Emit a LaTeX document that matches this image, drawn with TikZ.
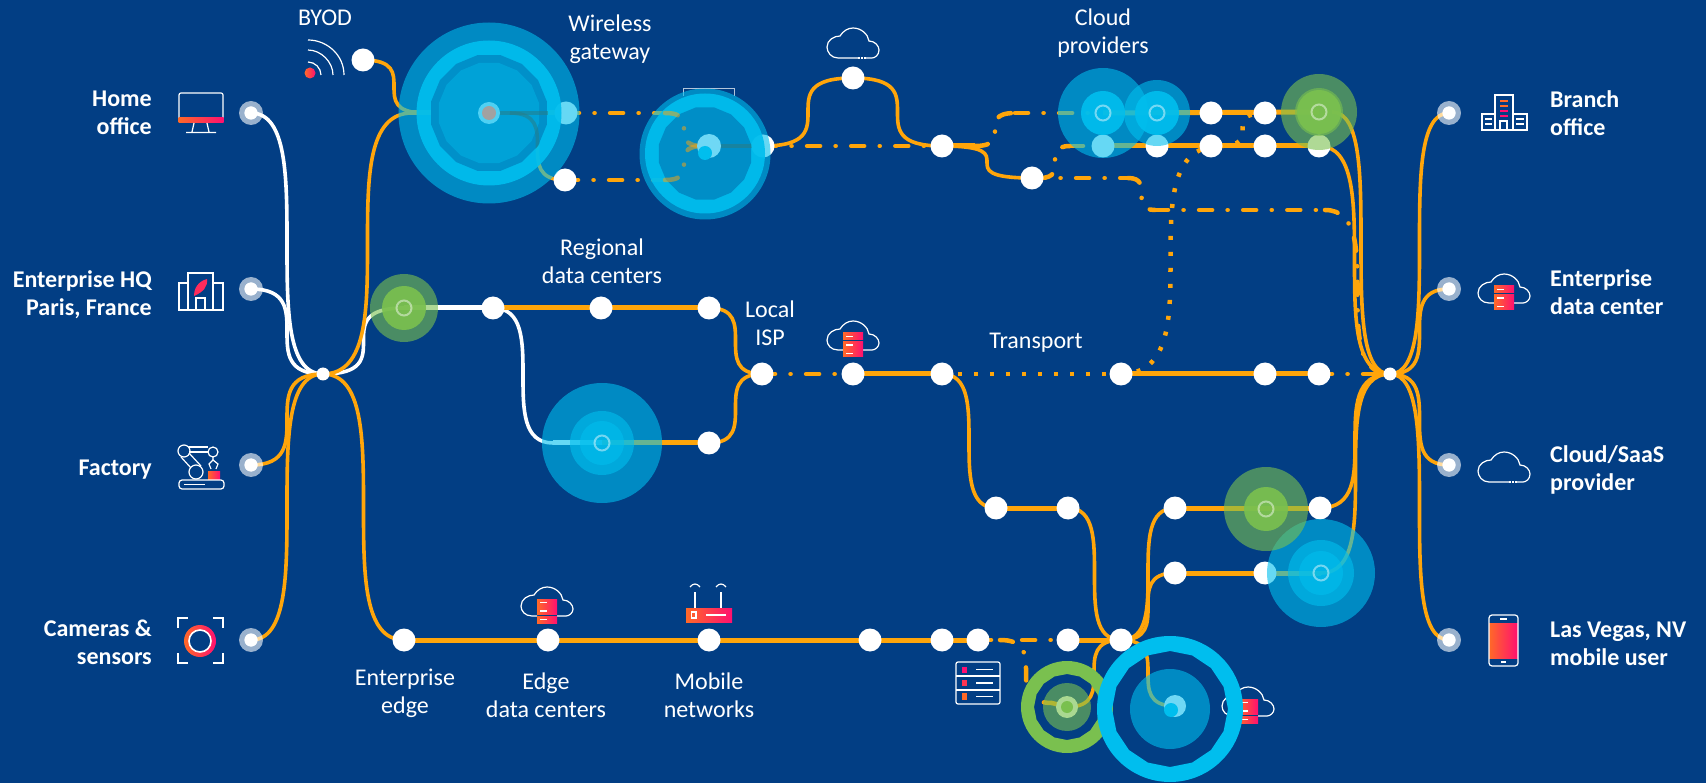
\documentclass[tikz,border=0pt]{standalone}
\usepackage{fontspec}
\usepackage{xcolor}
\usepackage{tikz}
\usetikzlibrary{shapes.geometric}
\setmainfont{Carlito}
\pgfdeclarelayer{lines}
\pgfdeclarelayer{discs}
\pgfsetlayers{lines,main,discs}
\definecolor{navy}{RGB}{2,62,132}
\definecolor{routeorange}{RGB}{255,165,10}
\definecolor{skyblue}{RGB}{0,190,238}
\definecolor{deepblue}{RGB}{0,140,198}
\definecolor{midblue}{RGB}{0,165,217}
\definecolor{paleblue}{RGB}{111,216,245}
\definecolor{leafgreen}{RGB}{122,192,79}
\definecolor{palegreen}{RGB}{170,216,145}
\definecolor{hotpink}{RGB}{255,16,112}
\definecolor{coral}{RGB}{255,105,40}
\definecolor{gwtrace}{RGB}{40,125,135}
\newcommand{\swoop}[3][flow]{\draw[#1] (#2.center) .. controls (#3.center |- #2.center) and (#2.center |- #3.center) .. (#3.center);}
\tikzset{
    cloudline/.pic={
        \draw[icon] (5,15) -- (-15,15) .. controls (-22,15) and (-26,9) .. (-26,4) .. controls (-26,-3) and (-19,-7) .. (-13,-7) .. controls (-10,-12) and (-5,-15) .. (0,-15) .. controls (8,-15) and (15,-9) .. (16,-2) .. controls (22,-2) and (26,3) .. (26,7) .. controls (26,12) and (22,15) .. (19,15) -- (13,15);
        \draw[icon,dash pattern=on 1.5pt off 1.5pt] (5,15) -- (13,15);
    },
    cloudrack/.pic={
        \draw[icon] (-10,13) -- (-15,13) .. controls (-22,13) and (-26,8) .. (-26,3) .. controls (-26,-4) and (-19,-8) .. (-13,-8) .. controls (-10,-13) and (-5,-16) .. (0,-16) .. controls (8,-16) and (15,-10) .. (16,-3) .. controls (22,-3) and (26,2) .. (26,6) .. controls (26,10) and (22,13) .. (19,13) -- (10,13);
        \foreach \ytop in {-4,4.5,13} {
            \shade[left color=coral,right color=hotpink] (-10,\ytop) rectangle (10,\ytop+7);
            \draw[white,line width=1.2pt] (-7,\ytop+3.5) -- (0,\ytop+3.5);
        };
    },
}
\begin{document}
\begin{tikzpicture}[x=1pt,y=-1pt,inner sep=0pt]
    \tikzstyle{stop}=[circle,fill=white,minimum size=23pt]
    \tikzstyle{hub}=[circle,fill=white,minimum size=13pt]
    \tikzstyle{port}=[circle,fill=white,fill opacity=.6,minimum size=24pt]
    \tikzstyle{portcore}=[circle,fill=white,minimum size=13pt]
    \tikzstyle{disc}=[circle,fill opacity=.6,minimum size=2*\rad pt]
    \tikzstyle{coredisc}=[circle,fill opacity=.92,minimum size=2*\rad pt]
    \tikzstyle{corering}=[circle,draw=white,draw opacity=.45,line width=2pt,minimum size=15pt]
    \tikzstyle{flow}=[routeorange,line width=3.6pt]
    \tikzstyle{route}=[routeorange,line width=5pt]
    \tikzstyle{whiteflow}=[white,line width=3.6pt]
    \tikzstyle{whiteroute}=[white,line width=5pt]
    \tikzstyle{dashdot}=[routeorange,line width=4.5pt,line cap=round,dash pattern=on 13pt off 15.5pt on 0.1pt off 15.5pt]
    \tikzstyle{dotline}=[routeorange,line width=4.5pt,dash pattern=on 4pt off 12pt]
    \tikzstyle{icon}=[white,line width=1.2pt]
    \tikzstyle{endlabel}=[white,font=\bfseries\fontsize{24}{28}\selectfont]
    \tikzstyle{tag}=[white,align=center,font=\fontsize{24}{28}\selectfont]

    \useasboundingbox (0,0) rectangle (1706,783);

    % ports and hubs
    \foreach \n/\x/\y in {home/251/113,hq/251/289,factory/251/465,cameras/251/640,branch/1449/113,edc/1449/289,saas/1449/465,vegas/1449/640} {
        \node[portcore] (\n) at (\x,\y) {};
        \begin{pgfonlayer}{discs}
            \node[port] (\n halo) at (\x,\y) {};
            \node[portcore] (\n top) at (\x,\y) {};
        \end{pgfonlayer}
    };
    \node[hub] (hubl) at (323,374) {};
    \node[hub] (hubr) at (1390,374) {};

    % white stops
    \foreach \n/\x/\y in {byod/363/60,gwa/566/113,gwb/565/180,
        rega/493/308,regb/601/308,regc/709/308,regd/709/443,
        gwc/763/146,peak/853/78,fork/942/146,forkb/1032/178,
        cla/1211/113,clb/1265/113,clc/1103/146,cld/1157/146,cle/1211/146,clf/1265/146,clg/1319/146,
        isp/762/374,tra/853/374,trb/942/374,trc/1121/374,trd/1265/374,tre/1319/374,
        sta/996/508,stb/1068/508,stc/1175/508,std/1320/508,ste/1175/573,stf/1265/573,
        ega/404/640,egb/548/640,egc/709/640,egd/870/640,ege/942/640,egf/978/640,egg/1068/640,egh/1121/640} {
        \node[stop] (\n) at (\x,\y) {};
    };

    % bends that have no stop of their own
    \coordinate (gwjoin) at (412,113);
    \coordinate (byodjoin) at (425,113);
    \coordinate (gwat) at (489,113);
    \coordinate (gwbend) at (510,113);
    \coordinate (gwtwoat) at (703,146);
    \coordinate (gwupper) at (665,113);
    \coordinate (gwlower) at (665,180);
    \coordinate (regbend) at (553,443);
    \coordinate (forkup) at (975,146);
    \coordinate (cloudin) at (1015,113);
    \coordinate (forkrow) at (1040,178);
    \coordinate (cloudlow) at (1070,146);
    \coordinate (longa) at (1128,178);
    \coordinate (longb) at (1155,210);
    \coordinate (longc) at (1325,210);
    \coordinate (dota) at (1220,146);
    \coordinate (greenout) at (1332,112);
    \coordinate (edgebranch) at (1000,640);
    \coordinate (ringin) at (1052,703);

    % discs
    \begin{pgfonlayer}{discs}
        \foreach \rad in {90.5} {\node[disc,fill=skyblue] (gwouter) at (489,113) {};};
        \foreach \rad in {72.5} {\node[coredisc,fill=skyblue] (gwring) at (489,113) {};};
        \node[regular polygon,regular polygon sides=16,fill=deepblue,fill opacity=.9,minimum size=118pt] (gwpoly) at (489,113) {};
        \node[regular polygon,regular polygon sides=16,fill=midblue,fill opacity=.9,minimum size=102pt] (gwinner) at (489,113) {};
        \begin{scope}
            \clip (489,113) circle (59);
            \draw[gwtrace,line width=4pt,draw opacity=.55] (gwat) -- (gwa.center);
            \swoop[gwtrace,line width=3.6pt,draw opacity=.55]{gwbend}{gwb}
        \end{scope}
        \node[circle,fill=paleblue!70!skyblue,minimum size=22pt] (gw) at (489,113) {};
        \node[circle,fill=black!37,minimum size=14pt] (gwdot) at (489,113) {};

        \foreach \rad in {65.5} {\node[disc,fill=skyblue] (gwtwoouter) at (705,154) {};};
        \foreach \rad in {60} {\node[coredisc,fill=skyblue] (gwtworing) at (705,153.5) {};};
        \node[regular polygon,regular polygon sides=16,fill=deepblue,fill opacity=.95,minimum size=94pt] (gwtwopoly) at (705,153.5) {};
        \begin{scope}[draw opacity=.5]
            \swoop[dashdot]{gwupper}{gwtwoat}
            \swoop[dashdot]{gwlower}{gwtwoat}
        \end{scope}
        \begin{scope}
            \clip (705,153.5) circle (47);
            \draw[gwtrace,line width=4pt,draw opacity=.6] (gwtwoat) -- (gwc.center);
        \end{scope}
        \node[circle,fill=paleblue,minimum size=24pt] (gwtwo) at (709,146) {};
        \node[circle,fill=skyblue,minimum size=14pt] (gwtwodot) at (705,153) {};

        \foreach \n/\x/\y/\rad in {rdcouter/602/443/60,rdcmid/602/443/32,rdcinner/602/443/22,
            cpaouter/1103/113/45,cpbouter/1157/113/33,
            sbouter/1321/573/54,sbmid/1321/573/33,sbinner/1321/573/22} {
            \node[disc,fill=skyblue] (\n) at (\x,\y) {};
        };
        \foreach \n/\x/\y/\rad in {cpa/1103/113/22,cpb/1157/113/22} {
            \node[coredisc,fill=skyblue] (\n) at (\x,\y) {};
        };
        \foreach \n/\x/\y/\rad in {hqgouter/404/308/34,cpgouter/1319/112/38,cpgmid/1319/112/24,stgouter/1266/509/42} {
            \node[disc,fill=leafgreen] (\n) at (\x,\y) {};
        };
        \foreach \n/\x/\y/\rad in {hqg/404/308/22,cpg/1319/112/22,stg/1266/509/22} {
            \node[coredisc,fill=leafgreen] (\n) at (\x,\y) {};
        };
        \foreach \n/\x/\y in {ringa/404/308,ringb/602/443,ringc/1103/113,ringd/1157/113,ringe/1319/112,ringf/1266/509,ringg/1321/573} {
            \node[corering] (\n) at (\x,\y) {};
        };

        % the two open rings
        \fill[leafgreen,even odd rule,shift={(1067,707)}] (0,0) circle (46) plot[domain=0:360,samples=17] (\x:33) -- cycle;
        \foreach \rad in {24} {\node[disc,fill=leafgreen] (edgedisc) at (1067,707) {};};
        \node[circle,fill=palegreen,minimum size=22pt] (edgecore) at (1067,707) {};
        \node[circle,fill=leafgreen,minimum size=12pt] (edgedot) at (1067,707) {};

        \fill[skyblue,even odd rule,shift={(1170,709)}] (0,0) circle (73) plot[domain=0:360,samples=17] (\x:58) -- cycle;
        \foreach \rad in {40} {\node[disc,fill=skyblue] (bluedisc) at (1170,709) {};};
        \node[circle,fill=paleblue,minimum size=22pt] (bluecore) at (1175,706) {};
        \node[circle,fill=skyblue,minimum size=14pt] (bluedot) at (1171,710) {};
    \end{pgfonlayer}

    % connectors
    \begin{pgfonlayer}{lines}
        \fill[navy] (0,0) rectangle (1706,783);

        \swoop[whiteflow]{home}{hubl}
        \swoop[whiteflow]{hq}{hubl}
        \swoop[whiteflow]{hubl}{hqg}
        \draw[whiteroute] (hqg.center) -- (rega.center);
        \swoop[whiteflow]{rega}{regbend}
        \draw[whiteroute] (regbend) -- (rdcinner.center);

        \swoop{factory}{hubl}
        \swoop{cameras}{hubl}
        \swoop{hubl}{ega}
        \swoop{hubl}{gwjoin}
        \swoop{byod}{byodjoin}
        \swoop{gwbend}{gwb}
        \swoop{regc}{isp}
        \swoop{regd}{isp}
        \swoop{gwc}{peak}
        \swoop{peak}{fork}
        \swoop{fork}{forkb}
        \swoop{trb}{sta}
        \swoop{stb}{egh}
        \swoop{egh}{stc}
        \swoop{egh}{ste}
        \swoop{egh}{edgecore}
        \swoop{egh}{bluecore}
        \swoop{std}{hubr}
        \swoop{sbinner}{hubr}
        \swoop{clg}{hubr}
        \swoop{greenout}{hubr}
        \swoop{hubr}{branch}
        \swoop{hubr}{edc}
        \swoop{hubr}{saas}
        \swoop{hubr}{vegas}

        \foreach \a/\b in {gwjoin/gw,gw/gwa,rega/regc,rdcinner/regd,gwtwo/gwc,fork/forkup,tra/trb,trc/tre,sta/stb,
            ega/egf,egg/egh,stc/std,ste/sbinner,cpa/cpg,clc/clg} {
            \draw[route] (\a.center) -- (\b.center);
        };

        \swoop[dashdot]{gwupper}{gwtwoat}
        \swoop[dashdot]{gwlower}{gwtwoat}
        \swoop[dashdot]{forkup}{cloudin}
        \swoop[dashdot]{forkrow}{cloudlow}
        \swoop[dashdot]{longa}{longb}
        \swoop[dashdot]{longc}{hubr}
        \swoop[dashdot]{edgebranch}{ringin}
        \foreach \a/\b in {gwa/gwupper,gwb/gwlower,gwc/fork,cloudin/cpa,cloudlow/clc,forkb/longa,longb/longc,isp/tra,tre/hubr,egf/egg} {
            \draw[dashdot] (\a.center) -- (\b.center);
        };
        \draw[dashdot] (ringin) -- (edgecore.center);

        \draw[dotline] (trb.center) -- (trc.center);
        \swoop[dotline]{trc}{dota}
        \swoop[dotline]{dota}{clb}
    \end{pgfonlayer}

    % icons
    \draw[icon,rounded corners=2pt] (179,118) -- (179,93) -- (223,93) -- (223,118);
    \shade[left color=coral,right color=hotpink] (178.5,118) rectangle (223.5,123);
    \draw[icon] (194,123) -- (192,132) (207,123) -- (209,132) (186,132.5) -- (216,132.5);

    \draw[icon] (188,283) -- (179,283) -- (179,310) -- (223,310) -- (223,283) -- (213,283) (188,310) -- (188,273) -- (213,273) -- (213,310);
    \draw[icon] (196,310) -- (196,298) -- (205,298) -- (205,310);
    \fill[hotpink!70!coral] (194,296) .. controls (194,284) and (203,280) .. (207,279) .. controls (208,287) and (203,292) .. cycle;

    \draw[icon] (184,451) circle (6) (213,452) circle (5) (196,472) circle (7);
    \draw[icon] (189,447) -- (208,447) (189,452) -- (208,452);
    \draw[icon] (181,457) -- (191,468) (189,453) -- (201,466) (213,457) -- (213,460);
    \draw[icon] (211,469) -- (209,464) -- (213,460) -- (218,464) -- (216,469);
    \shade[left color=coral,right color=hotpink] (208,471) rectangle (220,479);
    \draw[icon,rounded corners=3pt] (179,480) rectangle (224,489);
    \draw[icon] (184,484.5) -- (205,484.5);

    \draw[icon] (178,628) -- (178,618) -- (188,618) (213,618) -- (223,618) -- (223,628) (178,653) -- (178,663) -- (188,663) (213,663) -- (223,663) -- (223,653);
    \shade[left color=coral,right color=hotpink] (200,641) circle (16);
    \draw[white,fill=navy,line width=1.6pt] (200,641) circle (11);

    \draw[icon] (308,40) .. controls (327,40) and (344,55) .. (344,75);
    \draw[icon] (308,50) .. controls (321,50) and (333,62) .. (333,75);
    \draw[icon] (308,62) .. controls (315,62) and (321,68) .. (321,75);
    \shade[left color=coral,right color=hotpink] (310,73) circle (5.5);

    \draw[white,opacity=.7,line width=1pt] (683,96) -- (683,89) -- (734,89) -- (734,96);

    \pic at (853,43) {cloudline};
    \pic at (853,337) {cloudrack};
    \pic at (547,603) {cloudrack};
    \pic at (1248,703) {cloudrack};
    \pic at (1504,290) {cloudrack};
    \pic at (1504,467) {cloudline};

    \draw[icon,rounded corners=2pt] (956,662) rectangle (1000,704);
    \draw[icon] (956,676) -- (1000,676) (956,690) -- (1000,690);
    \fill[hotpink] (962,667) rectangle (967,673);
    \fill[hotpink!60!coral] (962,680) rectangle (967,686);
    \fill[coral] (962,693) rectangle (967,700);
    \draw[icon] (976,669.5) -- (993,669.5) (976,683) -- (993,683) (976,696.5) -- (993,696.5);

    \draw[icon] (695,608) -- (695,592) (721,608) -- (721,592);
    \draw[icon] (690,587) .. controls (693,583) and (697,583) .. (700,587) (716,587) .. controls (719,583) and (723,583) .. (726,587);
    \shade[left color=coral,right color=hotpink] (686,608) rectangle (732,622);
    \draw[white,line width=1.4pt] (691.5,612) rectangle (696,618);
    \draw[white,line width=1.4pt] (706,615) -- (726,615);

    \draw[icon] (1495,114) -- (1482,114) -- (1482,130) -- (1527,130) -- (1527,114) -- (1513,114) (1495,130) -- (1495,95) -- (1513,95) -- (1513,130);
    \draw[icon] (1500,130) -- (1500,121) -- (1507,121) -- (1507,130);
    \draw[icon] (1485,119) -- (1492,119) (1485,124) -- (1492,124) (1516,119) -- (1524,119) (1516,124) -- (1524,124);
    \foreach \ybar/\shadecol in {101/coral,106/coral,111/hotpink,116/hotpink} {
        \draw[\shadecol,line width=1.6pt] (1500,\ybar) -- (1508,\ybar);
    };

    \shade[left color=coral,right color=hotpink] (1489,623) rectangle (1518,658);
    \draw[icon,rounded corners=3pt] (1489,615) rectangle (1518,666);
    \draw[icon] (1500,619) -- (1507,619) (1501,662) -- (1506,662);

    % labels
    \node[endlabel,anchor=east,align=right] (homelabel) at (152,113) {Home\\office};
    \node[endlabel,anchor=east,align=right] (hqlabel) at (152,295) {Enterprise HQ\\Paris, France};
    \node[endlabel,anchor=east,align=right] (factorylabel) at (152,470) {Factory};
    \node[endlabel,anchor=east,align=right] (cameralabel) at (152,642) {Cameras \&\\sensors};
    \node[endlabel,anchor=west,align=left] (branchlabel) at (1550,113) {Branch\\office};
    \node[endlabel,anchor=west,align=left] (edclabel) at (1550,292) {Enterprise\\data center};
    \node[endlabel,anchor=west,align=left] (saaslabel) at (1550,470) {Cloud/SaaS\\provider};
    \node[endlabel,anchor=west,align=left] (vegaslabel) at (1550,644) {Las Vegas, NV\\mobile user};

    \node[tag] (byodlabel) at (325,18) {BYOD};
    \node[tag] (gatewaylabel) at (610,39) {Wireless\\gateway};
    \node[tag] (regionallabel) at (602,261) {Regional\\data centers};
    \node[tag] (isplabel) at (770,323) {Local\\ISP};
    \node[tag] (transportlabel) at (1036,343) {Transport};
    \node[tag] (providerlabel) at (1103,33) {Cloud\\providers};
    \node[tag] (entedgelabel) at (405,693) {Enterprise\\edge};
    \node[tag] (edgedclabel) at (546,695) {Edge\\data centers};
    \node[tag] (mobilelabel) at (709,695) {Mobile\\networks};
\end{tikzpicture}
\end{document}
